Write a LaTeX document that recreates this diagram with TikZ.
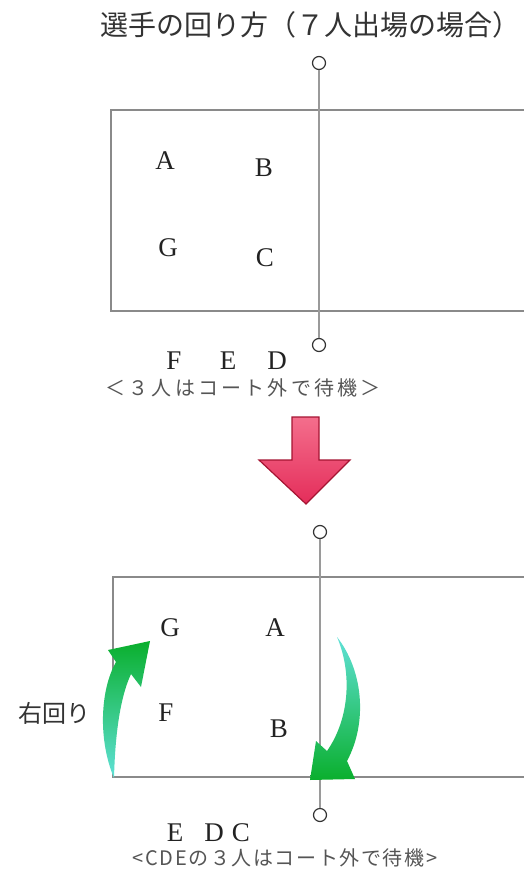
\documentclass[tikz,border=0pt]{standalone}
\usepackage{fontspec}
\setmainfont{Liberation Serif}
\newfontfamily\jp{Noto Sans CJK JP}
\newfontfamily\jpls[LetterSpace=16]{Noto Sans CJK JP}
\newfontfamily\jplsb[LetterSpace=8]{Noto Sans CJK JP}
\definecolor{courtline}{HTML}{8A8A8A}
\definecolor{netline}{HTML}{9A9A9A}
\definecolor{ringcol}{HTML}{333333}
\definecolor{lettercol}{HTML}{222222}
\definecolor{notecol}{HTML}{555555}
\definecolor{titlecol}{HTML}{333333}
\definecolor{pinktop}{RGB}{244,110,140}
\definecolor{pinkbot}{RGB}{228,45,90}
\definecolor{pinkedge}{RGB}{165,20,50}
\definecolor{greendark}{RGB}{10,175,45}
\definecolor{greenlight}{RGB}{95,225,215}
\begin{document}
\begin{tikzpicture}[x=1pt,y=-1pt,
  court/.style={draw=courtline,line width=1.5pt},
  netpost/.style={circle,draw=ringcol,line width=1.2pt,minimum size=13pt,inner sep=0pt},
  netcord/.style={draw=netline,line width=1.1pt},
  player/.style={inner sep=0pt,text=lettercol,font=\fontsize{27}{30}\selectfont},
  waitnote/.style={inner sep=0pt,text=notecol},
  pinkarrow/.style={top color=pinktop,bottom color=pinkbot,draw=pinkedge,line width=1.2pt,line join=miter}]
\useasboundingbox (0,0) rectangle (524,872);

% title
\node[inner sep=0pt,text=titlecol,font=\jp\fontsize{28}{32}\selectfont] (title) at (310,25) {選手の回り方（７人出場の場合）};

% ---------- top court ----------
\draw[court] (530,110) -- (111,110) -- (111,311) -- (530,311);
\node[netpost] (t1) at (319,63) {};
\node[netpost] (t2) at (319,345) {};
\draw[netcord] (t1) -- (t2);

\node[player] (pA1) at (165,161) {A};
\node[player] (pB1) at (264,168) {B};
\node[player] (pG1) at (168,248) {G};
\node[player] (pC1) at (265,258) {C};

\node[player] (pF1) at (174,361) {F};
\node[player] (pE1) at (228,361) {E};
\node[player] (pD1) at (277,361) {D};
\node[waitnote,font=\jpls\fontsize{20}{23}\selectfont] (note1) at (243,388) {＜３人はコート外で待機＞};

% ---------- pink arrow ----------
\shade[pinkarrow] (292,417) -- (319,417) -- (319,460) -- (350,460) -- (306,504) -- (259,460) -- (292,460) -- cycle;

% ---------- bottom court ----------
\draw[court] (530,577) -- (113,577) -- (113,777) -- (530,777);
\node[netpost] (t3) at (320,532) {};
\node[netpost] (t4) at (320,815) {};
\draw[netcord] (t3) -- (t4);

\node[player] (pG2) at (170,628) {G};
\node[player] (pA2) at (275,628) {A};
\node[player] (pF2) at (166,713) {F};
\node[player] (pB2) at (279,729) {B};

\node[inner sep=0pt,text=titlecol,font=\jp\fontsize{24}{28}\selectfont] (turn) at (54,713) {右回り};

% green arrows
\shade[top color=greendark,bottom color=greenlight]
  (114,778) .. controls (98,740) and (100,690) .. (116,662)
  -- (108,650) -- (150,641) -- (141,687) -- (131,674)
  .. controls (119,700) and (115,740) .. (114,778) -- cycle;
\shade[top color=greenlight,bottom color=greendark]
  (337,637) .. controls (363,670) and (368,722) .. (347,761)
  -- (355,779) -- (310,780) -- (316,741) -- (327,751)
  .. controls (350,718) and (352,672) .. (337,637) -- cycle;

\node[player] (pE2) at (175,833) {E};
\node[player] (pD2) at (214,833) {D};
\node[player] (pC2) at (241,833) {C};
\node[waitnote,font=\jplsb\fontsize{20}{23}\selectfont] (note2) at (285,858) {<CDEの３人はコート外で待機>};
\end{tikzpicture}
\end{document}
